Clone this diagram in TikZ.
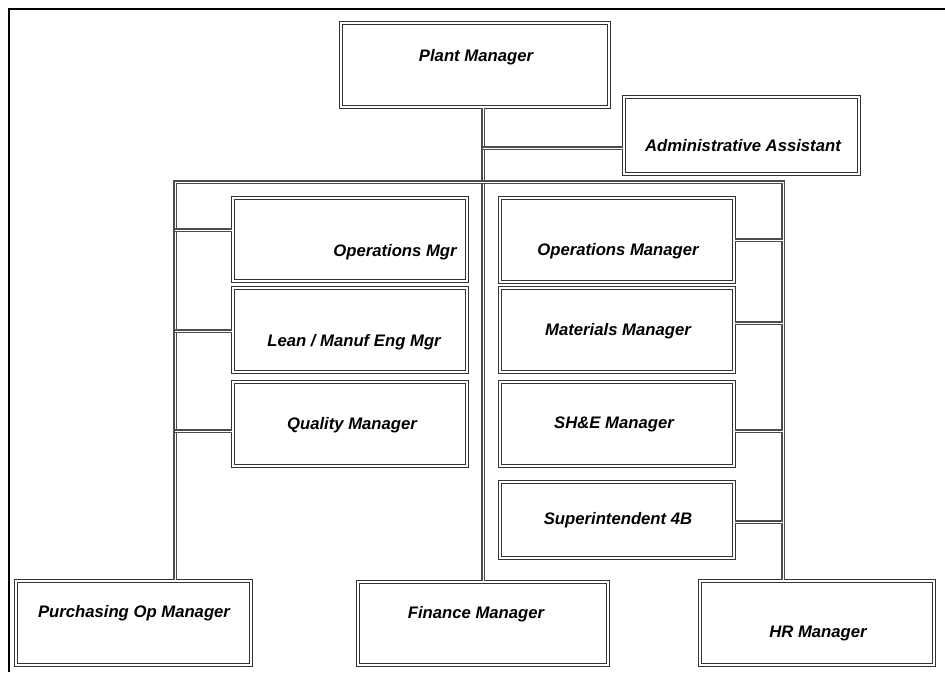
\documentclass[tikz,border=0pt]{standalone}
\usepackage{fontspec}
\setmainfont{Liberation Sans}
\usetikzlibrary{positioning}

\tikzset{
  box/.style={rectangle,draw=black!80,double=white,double distance=0.8pt,
    line width=0.75pt,fill=white,inner sep=0pt},
  tag/.style={font=\fontsize{9.5}{11}\selectfont\bfseries\itshape,inner sep=0pt},
  link/.style={draw=black!70,double=white,double distance=0.55pt,line width=0.7pt},
}

\begin{document}
\begin{tikzpicture}[x=0.02cm,y=-0.02cm]
  \useasboundingbox (0,0) rectangle (945,672);

  % frame
  \draw[line width=1.3pt] (9,672) -- (9,9) -- (945,9);

  % lines
  \coordinate (trunk) at (483,148);
  \coordinate (busL) at (175,182);
  \coordinate (busR) at (783,182);

  % boxes
  \node[box,minimum width=5.36cm,minimum height=1.68cm] (plant) at (475,65) {};
  \node[box,minimum width=4.70cm,minimum height=1.54cm] (admin) at (741.5,135.5) {};
  \node[box,minimum width=4.68cm,minimum height=1.66cm] (opsmgr) at (350,239.5) {};
  \node[box,minimum width=4.68cm,minimum height=1.68cm] (lean) at (350,330) {};
  \node[box,minimum width=4.68cm,minimum height=1.68cm] (quality) at (350,424) {};
  \node[box,minimum width=4.68cm,minimum height=1.68cm] (opsman) at (617,240) {};
  \node[box,minimum width=4.68cm,minimum height=1.68cm] (materials) at (617,330) {};
  \node[box,minimum width=4.68cm,minimum height=1.68cm] (she) at (617,424) {};
  \node[box,minimum width=4.68cm,minimum height=1.52cm] (supt) at (617,520) {};
  \node[box,minimum width=4.70cm,minimum height=1.68cm] (purch) at (133.5,623) {};
  \node[box,minimum width=5.00cm,minimum height=1.66cm] (finance) at (483,623.5) {};
  \node[box,minimum width=4.68cm,minimum height=1.68cm] (hr) at (817,623) {};

  \draw[link] (trunk |- plant.south) -- (trunk |- finance.north);
  \draw[link] (trunk) -- (trunk -| admin.west);
  \draw[link] (busL |- purch.north) -- (busL) -- (busR) -- (busR |- hr.north);

  \foreach \b/\y in {opsmgr/230,lean/331,quality/431}
    \draw[link] (busL |- 0,\y) -- (\b.west |- 0,\y);
  \foreach \b/\y in {opsman/240,materials/323,she/431,supt/522}
    \draw[link] (\b.east |- 0,\y) -- (busR |- 0,\y);

  % titles
  \node[tag] (plantT) at (476,57) {Plant Manager};
  \node[tag] (adminT) at (743,146) {Administrative Assistant};
  \node[tag] (opsmgrT) at (395,252) {Operations Mgr};
  \node[tag] (leanT) at (354,342) {Lean / Manuf Eng Mgr};
  \node[tag] (qualityT) at (352,425) {Quality Manager};
  \node[tag] (opsmanT) at (618,251) {Operations Manager};
  \node[tag] (materialsT) at (618,331) {Materials Manager};
  \node[tag] (sheT) at (614,424) {SH\&E Manager};
  \node[tag] (suptT) at (618,520) {Superintendent 4B};
  \node[tag] (purchT) at (134,613) {Purchasing Op Manager};
  \node[tag] (financeT) at (476,614) {Finance Manager};
  \node[tag] (hrT) at (818,633) {HR Manager};

\end{tikzpicture}
\end{document}
